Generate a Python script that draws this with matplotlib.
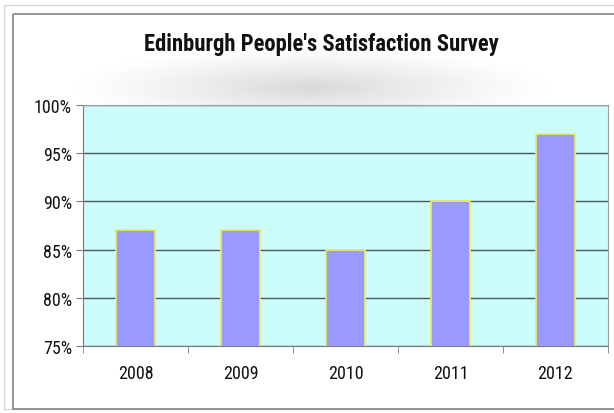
import matplotlib
matplotlib.use("Agg")
import matplotlib.pyplot as plt
import numpy as np
from matplotlib.patches import Rectangle
from matplotlib.ticker import FuncFormatter, FixedLocator
from matplotlib import font_manager

years = ["2008", "2009", "2010", "2011", "2012"]
satisfaction = [87, 87, 85, 90, 97]
yticks = [75, 80, 85, 90, 95, 100]

names = {f.name for f in font_manager.fontManager.ttflist}
narrow = None
for cand in ["Liberation Sans Narrow", "Roboto Condensed", "Open Sans Condensed", "Noto Sans Condensed", "DejaVu Sans Condensed"]:
    if cand in names:
        narrow = cand
        break
if narrow is None:
    narrow = "DejaVu Sans"
plt.rcParams['font.family'] = [narrow, 'Liberation Sans', 'DejaVu Sans']

W, H = 614, 414
fig = plt.figure(figsize=(W/100, H/100), dpi=100)
fig.patch.set_facecolor('white')

bg = fig.add_axes([0, 0, 1, 1], zorder=-5)
bg.set_xlim(0, W); bg.set_ylim(H, 0); bg.axis('off')
xx, yy = np.meshgrid(np.arange(W), np.arange(H))
d = np.sqrt(((xx - 310) / 240.0) ** 2 + ((yy - 88) / 40.0) ** 2)
shade = np.clip(1 - d, 0, 1) ** 1.2 * 0.15
img = 1 - shade
bg.imshow(np.dstack([img, img, img]), extent=(0, W, H, 0), aspect='auto', interpolation='bilinear')
bg.add_patch(Rectangle((4, 6), W, H - 10, fill=False, edgecolor='#d8d8d8', lw=1))
bg.add_patch(Rectangle((13, 15), W, 395, fill=False, edgecolor='#8c8c8c', lw=1.3))

ax = fig.add_axes([83/W, 1 - 347/H, (608 - 83)/W, (347 - 106)/H])
ax.set_facecolor('#ccfcfc')
x = np.arange(len(years))
ax.bar(x, satisfaction, width=0.38, color='#9999ff', edgecolor='#eeee55', linewidth=1.2, zorder=3)
ax.set_ylim(75, 100)
ax.set_xlim(-0.5, len(years) - 0.5)
ax.yaxis.set_major_locator(FixedLocator(yticks))
ax.yaxis.set_major_formatter(FuncFormatter(lambda v, p: f"{int(v)}%"))
ax.grid(axis='y', color='#4a5a5a', lw=1.0, zorder=1)
ax.set_axisbelow(True)
ax.set_xticks(x)
ax.set_xticklabels(years)
ax.set_xticks(np.arange(-0.5, len(years)), minor=True)
ax.tick_params(axis='x', which='major', length=0, pad=13, labelsize=13, labelcolor='#111111')
ax.tick_params(axis='x', which='minor', length=5, color='#7a7a7a', direction='out')
ax.tick_params(axis='y', length=5, color='#7a7a7a', labelsize=13, pad=3, labelcolor='#111111')
for s in ['top', 'right']:
    ax.spines[s].set_color('#a0a0a0')
ax.spines['left'].set_color('#7a7a7a')
ax.spines['bottom'].set_color('#7a7a7a')

fig.text(321/W, 1 - 44/H, "Edinburgh People's Satisfaction Survey", ha='center', va='center',
         fontsize=16.3, fontweight='bold', color='#111111')

fig.savefig('out.png', dpi=100)
